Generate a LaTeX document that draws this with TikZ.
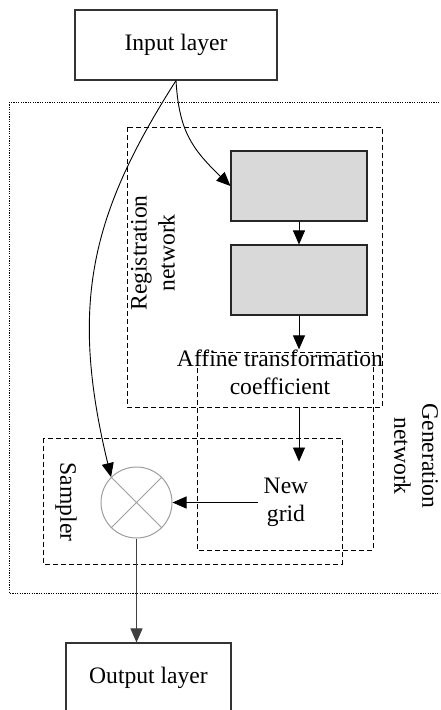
\documentclass[tikz,border=0pt]{standalone}
\usepackage{fontspec}
\setmainfont{Liberation Serif}
\usetikzlibrary{arrows.meta,calc}
\begin{document}
\begin{tikzpicture}[x=1pt,y=-1pt,
  font=\fontsize{23.6}{28}\selectfont,
  layer/.style={draw=black!80, line width=1.1pt, rectangle, inner sep=0},
  block/.style={draw=black!85, fill=black!15, line width=1.1pt,
    minimum width=136pt, minimum height=70pt, inner sep=0},
  arr/.style={-{Triangle[length=14pt,width=12pt]}, line width=0.9pt},
  grp/.style={dash pattern=on 5pt off 3pt, line width=0.9pt},
  outerbox/.style={dash pattern=on 1.2pt off 1.2pt, line width=0.8pt},
  lbl/.style={align=center, inner sep=0pt}]
\path[use as bounding box, clip] (0,0) rectangle (440,710);

% group frames
\draw[outerbox] (9,102) rectangle (452,593);
\draw[grp] (127,127) rectangle (382,407);
\draw[grp] (197,352) rectangle (373,550);
\draw[grp] (43,438) rectangle (342,564);

% layers and blocks
\node[layer, minimum width=202pt, minimum height=70pt] (in) at (176,45) {Input layer};
\node[block] (b1) at (299,186) {};
\node[block] (b2) at (299,280) {};
\node[lbl] (aff) at (280,372) {Affine transformation\\coefficient};
\node[lbl, inner xsep=6pt, inner ysep=16pt] (grid) at (286,502) {New\\grid};
\node[draw=black!38, line width=1pt, circle, minimum size=71pt, inner sep=0] (mix) at (136.5,502.5) {};
\draw[black!38, line width=1pt] (mix.45) -- (mix.225) (mix.135) -- (mix.315);
\node[layer, minimum width=165pt, minimum height=70pt] (out) at (148.5,678) {Output layer};

% group labels
\node[lbl, rotate=90] (regl) at (153,253) {Registration\\network};
\node[lbl, rotate=-90] (saml) at (66,502) {Sampler};
\node[lbl, rotate=-90] (genl) at (416,456) {Generation\\network};

% connectors
\draw[arr] (in.south) .. controls (179,130) and (191,148) .. (b1.west);
\draw[arr] (in.south) .. controls (91,214) and (69,303) .. (mix.135);
\draw[arr] (b1.south) -- (b2.north);
\draw[arr] (b2.south) -- (b2.south |- aff.north);
\draw[arr] ($(aff.south -| b2.south)+(0,13)$) -- (b2.south |- grid.north);
\draw[arr] (grid.west |- mix) -- (mix.east);
\draw[arr, black!75] (mix.south) -- (mix.south |- out.north);
\end{tikzpicture}
\end{document}
